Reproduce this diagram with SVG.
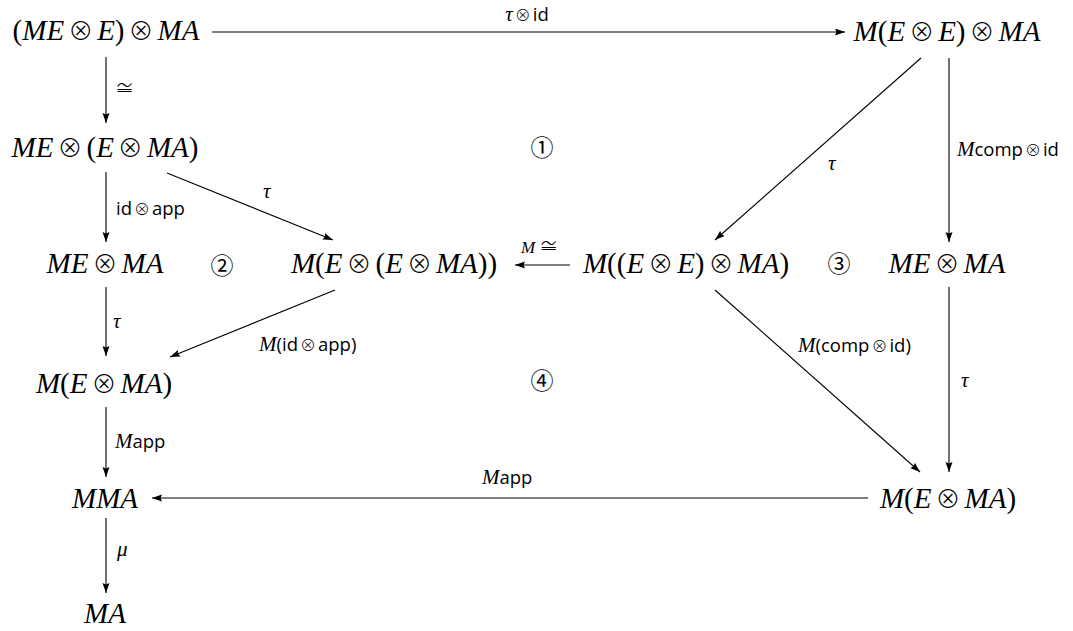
<svg xmlns="http://www.w3.org/2000/svg" width="1073" height="631" viewBox="0 0 1073 631">
<style>
.m{font-family:"Liberation Serif","Times New Roman",serif;font-style:italic;font-size:29px;fill:#000}
.u{font-style:normal}
.o{font-family:"Noto Sans CJK JP","DejaVu Sans",sans-serif;font-style:normal;font-size:25px;font-weight:300}
.l{font-family:"Open Sans","DejaVu Sans",sans-serif;font-size:18.5px;fill:#000}
.li{font-family:"Liberation Serif",serif;font-style:italic;font-size:21px}
.lo{font-family:"Noto Sans CJK JP","DejaVu Sans",sans-serif;font-size:16px;font-weight:300}
.c{font-family:"Noto Sans CJK JP","DejaVu Sans",sans-serif;font-size:23px;fill:#000;text-anchor:middle}
.e{stroke:#000;stroke-width:1.1;fill:none;marker-end:url(#ah)}
</style>
<defs>
<marker id="ah" markerUnits="userSpaceOnUse" markerWidth="11" markerHeight="8" refX="10" refY="3.5" orient="auto">
<path d="M0,0 L10,3.5 L0,7 L1.5,3.5 Z" fill="#000"/>
</marker>
</defs>
<rect width="1073" height="631" fill="#fff"/>
<g id="connectors">
<line class="e" x1="212" y1="32" x2="845" y2="32"/>
<line class="e" x1="106" y1="57" x2="106" y2="123"/>
<line class="e" x1="106" y1="172" x2="106" y2="242"/>
<line class="e" x1="167" y1="173" x2="333" y2="240"/>
<line class="e" x1="106" y1="287" x2="106" y2="356"/>
<line class="e" x1="335" y1="290" x2="170" y2="357"/>
<line class="e" x1="570" y1="265" x2="515" y2="265"/>
<line class="e" x1="921" y1="58" x2="715" y2="240"/>
<line class="e" x1="949" y1="58" x2="949" y2="242"/>
<line class="e" x1="715" y1="290" x2="920" y2="472"/>
<line class="e" x1="949" y1="287" x2="949" y2="472"/>
<line class="e" x1="106" y1="407" x2="106" y2="477"/>
<line class="e" x1="868" y1="498" x2="152" y2="498"/>
<line class="e" x1="106" y1="518" x2="106" y2="593"/>
<text class="l" x="527" y="21" text-anchor="middle"><tspan class="li">τ</tspan><tspan class="lo" dx="2">⊗</tspan><tspan dx="2">id</tspan></text>
<text class="l" x="115" y="95"><tspan class="lo" style="font-size:19px">≅</tspan></text>
<text class="l" x="116" y="215">id<tspan class="lo" dx="2">⊗</tspan><tspan dx="2">app</tspan></text>
<text class="l" x="263" y="198"><tspan class="li">τ</tspan></text>
<text class="l" x="113" y="328"><tspan class="li">τ</tspan></text>
<text class="l" x="259" y="351"><tspan class="li">M</tspan>(id<tspan class="lo" dx="2">⊗</tspan><tspan dx="2">app)</tspan></text>
<text class="l" x="521" y="253"><tspan class="li" style="font-size:17px">M</tspan><tspan class="lo" dx="4" style="font-size:19px">≅</tspan></text>
<text class="l" x="828" y="170"><tspan class="li">τ</tspan></text>
<text class="l" x="957" y="156"><tspan class="li">M</tspan>comp<tspan class="lo" dx="2">⊗</tspan><tspan dx="2">id</tspan></text>
<text class="l" x="798" y="352"><tspan class="li">M</tspan>(comp<tspan class="lo" dx="2">⊗</tspan><tspan dx="2">id)</tspan></text>
<text class="l" x="961" y="387"><tspan class="li">τ</tspan></text>
<text class="l" x="115" y="448"><tspan class="li">M</tspan>app</text>
<text class="l" x="482" y="484"><tspan class="li">M</tspan>app</text>
<text class="l" x="117" y="556"><tspan class="li">μ</tspan></text>
</g>
<g id="n1"><text class="m" x="106" y="40" text-anchor="middle"><tspan class="u">(</tspan>ME<tspan class="o" dx="4">⊗</tspan><tspan dx="4">E</tspan><tspan class="u">)</tspan><tspan class="o" dx="4">⊗</tspan><tspan dx="4">MA</tspan></text></g>
<g id="n2"><text class="m" x="947" y="41" text-anchor="middle">M<tspan class="u">(</tspan>E<tspan class="o" dx="4">⊗</tspan><tspan dx="4">E</tspan><tspan class="u">)</tspan><tspan class="o" dx="4">⊗</tspan><tspan dx="4">MA</tspan></text></g>
<g id="n3"><text class="m" x="105" y="157" text-anchor="middle">ME<tspan class="o" dx="4">⊗</tspan><tspan class="u" dx="4">(</tspan>E<tspan class="o" dx="4">⊗</tspan><tspan dx="4">MA</tspan><tspan class="u">)</tspan></text></g>
<g id="n4"><text class="m" x="105" y="273" text-anchor="middle">ME<tspan class="o" dx="4">⊗</tspan><tspan dx="4">MA</tspan></text></g>
<g id="n5"><text class="m" x="394" y="273" text-anchor="middle">M<tspan class="u">(</tspan>E<tspan class="o" dx="4">⊗</tspan><tspan class="u" dx="4">(</tspan>E<tspan class="o" dx="4">⊗</tspan><tspan dx="4">MA</tspan><tspan class="u">))</tspan></text></g>
<g id="n6"><text class="m" x="686" y="273" text-anchor="middle">M<tspan class="u">((</tspan>E<tspan class="o" dx="4">⊗</tspan><tspan dx="4">E</tspan><tspan class="u">)</tspan><tspan class="o" dx="4">⊗</tspan><tspan dx="4">MA</tspan><tspan class="u">)</tspan></text></g>
<g id="n7"><text class="m" x="947" y="273" text-anchor="middle">ME<tspan class="o" dx="4">⊗</tspan><tspan dx="4">MA</tspan></text></g>
<g id="n8"><text class="m" x="104" y="393" text-anchor="middle">M<tspan class="u">(</tspan>E<tspan class="o" dx="4">⊗</tspan><tspan dx="4">MA</tspan><tspan class="u">)</tspan></text></g>
<g id="n9"><text class="m" x="948" y="508" text-anchor="middle">M<tspan class="u">(</tspan>E<tspan class="o" dx="4">⊗</tspan><tspan dx="4">MA</tspan><tspan class="u">)</tspan></text></g>
<g id="n10"><text class="m" x="105" y="508" text-anchor="middle">MMA</text></g>
<g id="n11"><text class="m" x="105" y="623" text-anchor="middle">MA</text></g>
<g id="r1"><text class="c" x="542" y="156">①</text></g>
<g id="r2"><text class="c" x="222" y="274">②</text></g>
<g id="r3"><text class="c" x="839" y="272">③</text></g>
<g id="r4"><text class="c" x="542" y="389">④</text></g>
</svg>
